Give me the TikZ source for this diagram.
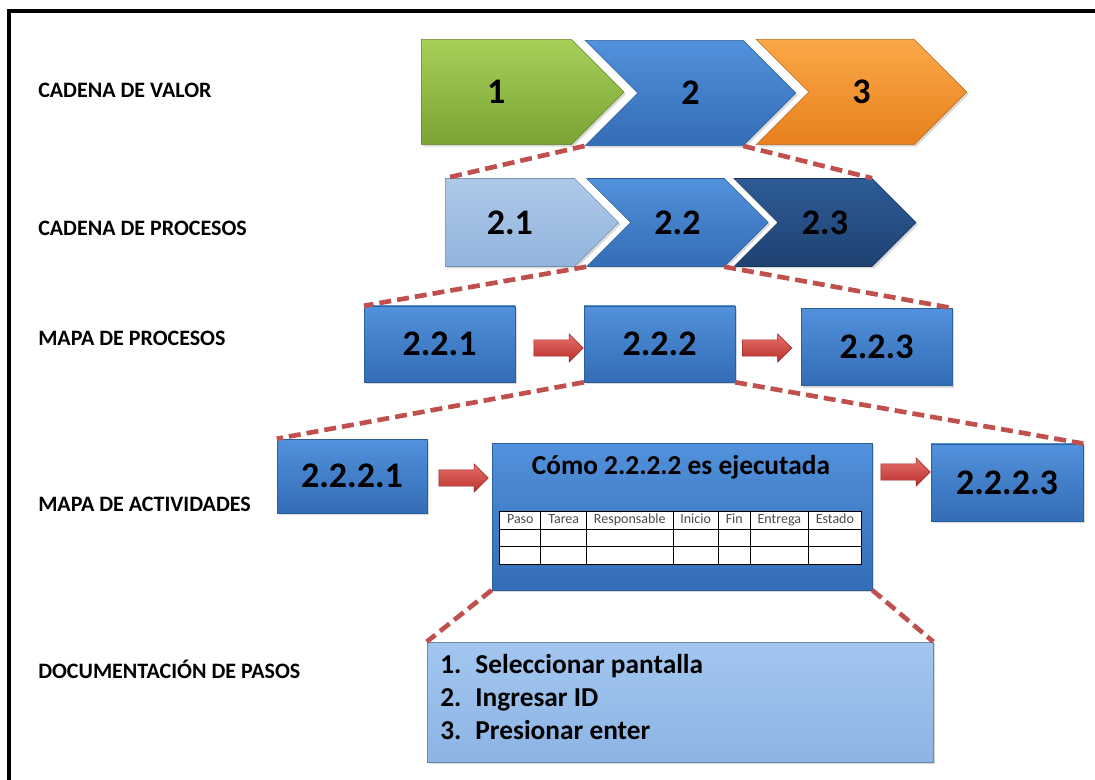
\documentclass[tikz,border=0pt]{standalone}
\usepackage{fontspec}
\setmainfont{Carlito}
\usepackage{array}
\usepackage{xcolor}
\usetikzlibrary{positioning,shapes.symbols,shapes.arrows,shadows}

\definecolor{zoomred}{HTML}{C0504D}
\definecolor{cellgray}{HTML}{4A4A4A}
\definecolor{greentop}{HTML}{A8CF58}
\definecolor{greenbot}{HTML}{7AA334}
\definecolor{bluetop}{HTML}{5291DC}
\definecolor{bluebot}{HTML}{336DB5}
\definecolor{blueline}{HTML}{2C5E9C}
\definecolor{orangetop}{HTML}{FBA848}
\definecolor{orangebot}{HTML}{E8801E}
\definecolor{paletop}{HTML}{AEC9EA}
\definecolor{palebot}{HTML}{93B4DD}
\definecolor{darktop}{HTML}{2D5B96}
\definecolor{darkbot}{HTML}{1E4272}
\definecolor{doctop}{HTML}{A2C6EF}
\definecolor{docbot}{HTML}{8CB4E4}
\definecolor{arrowtop}{HTML}{E8706A}
\definecolor{arrowbot}{HTML}{B8302C}

\begin{document}
\begin{tikzpicture}[
  x=0.75pt, y=-0.75pt,
  level/.style={anchor=west, inner sep=0pt, font=\fontsize{16.5}{19.5}\selectfont\bfseries},
  chev/.style={signal, signal to=east, signal pointer angle=90, inner sep=0pt,
    line width=0.4pt, font=\fontsize{27}{32}\selectfont\bfseries,
    drop shadow={shadow xshift=1.5pt, shadow yshift=-1.5pt, opacity=0.3}},
  notched/.style={signal from=west},
  greenfill/.style={top color=greentop, bottom color=greenbot, draw=greenbot!80!black},
  bluefill/.style={top color=bluetop, bottom color=bluebot, draw=blueline},
  orangefill/.style={top color=orangetop, bottom color=orangebot, draw=orangebot!80!black},
  palefill/.style={top color=paletop, bottom color=palebot, draw=palebot!80!black},
  darkfill/.style={top color=darktop, bottom color=darkbot, draw=darkbot!80!black},
  box/.style={rectangle, bluefill, inner sep=0pt, line width=0.4pt,
    font=\fontsize{27}{32}\selectfont\bfseries,
    drop shadow={shadow xshift=1.5pt, shadow yshift=-1.5pt, opacity=0.3}},
  doc/.style={rectangle, top color=doctop, bottom color=docbot,
    draw=docbot!75!black, inner sep=0pt, line width=0.4pt,
    drop shadow={shadow xshift=1.5pt, shadow yshift=-1.5pt, opacity=0.3}},
  redarrow/.style={single arrow, single arrow head extend=4.5pt, inner xsep=0pt,
    inner ysep=6pt, minimum height=37pt, top color=arrowtop, bottom color=arrowbot,
    draw=arrowbot!80!black, line width=0.3pt},
  zoom/.style={zoomred, line width=3.5pt, dash pattern=on 9pt off 4.5pt},
]
  \useasboundingbox (0,0) rectangle (1095,780);
  \draw[line width=3pt] (9,800) |- (1110,11);

  % levels
  \node[level] (l1) at (38,90) {CADENA DE VALOR};
  \node[level] (l2) at (38,228) {CADENA DE PROCESOS};
  \node[level] (l3) at (38,338) {MAPA DE PROCESOS};
  \node[level] (l4) at (38,504) {MAPA DE ACTIVIDADES};
  \node[level] (l5) at (38,669) {DOCUMENTACIÓN DE PASOS};

  % value chain
  \node[chev, greenfill, anchor=west, minimum width=152pt, minimum height=79pt] (c1) at (421,92) {1};
  \node[chev, notched, bluefill, minimum width=158pt, minimum height=79pt] (c2) at (690.5,93) {2};
  \node[chev, notched, orangefill, minimum width=158pt, minimum height=79pt] (c3) at (861.5,92) {3};

  % process chain
  \node[chev, palefill, anchor=west, minimum width=130pt, minimum height=66pt] (p21) at (445,222.5) {2.1};
  \node[chev, notched, bluefill, minimum width=136pt, minimum height=66pt] (p22) at (677.5,222.5) {2.2};
  \node[chev, notched, darkfill, minimum width=136.5pt, minimum height=66pt] (p23) at (825,222.5) {2.3};

  % process map
  \node[box, minimum width=113pt, minimum height=57pt] (m221) at (439.5,344) {2.2.1};
  \node[box, minimum width=113pt, minimum height=57pt] (m222) at (659.5,344) {2.2.2};
  \node[box, minimum width=113pt, minimum height=58pt] (m223) at (876.5,347) {2.2.3};
  \node[redarrow] (r1) at (554.5,348) {};
  \node[redarrow] (r2) at (763,348) {};

  % activity map
  \node[box, minimum width=112.5pt, minimum height=55.5pt] (a2221) at (352,476) {2.2.2.1};
  \node[box, minimum width=285pt, minimum height=110pt] (act) at (682,516.5) {};
  \node[box, minimum width=114pt, minimum height=58pt] (a2223) at (1007,482.5) {2.2.2.3};
  \node[redarrow] (r3) at (459.5,478) {};
  \node[redarrow] (r4) at (901.5,472) {};
  \node[font=\fontsize{20.5}{24}\selectfont\bfseries] (ttl) at (681,467) {Cómo 2.2.2.2 es ejecutada};
  \node[fill=white, inner sep=0pt, font=\fontsize{10.5}{12.6}\selectfont] (tab) at (680.5,538) {%
    \setlength{\tabcolsep}{5.2pt}\setlength{\arrayrulewidth}{0.7pt}%
    \begin{tabular}{|*{7}{>{\color{cellgray}}c|}}\hline
      Paso & Tarea & Responsable & Inicio & Fin & Entrega & Estado\\\hline
      &&&&&&\\\hline
      &&&&&&\\\hline
    \end{tabular}};

  % step documentation
  \node[doc, minimum width=379.5pt, minimum height=90pt] (dc) at (680,702) {};
  \node[anchor=west, inner sep=0pt, font=\fontsize{20.5}{24.75}\selectfont\bfseries] (lst) at (440,700) {%
    \begin{tabular}{@{}l@{\hspace{10.5pt}}l@{}}
      1. & Seleccionar pantalla\\
      2. & Ingresar ID\\
      3. & Presionar enter
    \end{tabular}};

  % zoom lines
  \draw[zoom] (c2.south west) -- (p21.north west);
  \draw[zoom] (c2.south east) -- (p23.north east);
  \draw[zoom] (p22.south west) -- (m221.north west);
  \draw[zoom] (p22.south east) -- (m223.north east);
  \draw[zoom] (m222.south west) -- (a2221.north west);
  \draw[zoom] (m222.south east) -- (a2223.north east);
  \draw[zoom] (act.south west) -- (dc.north west);
  \draw[zoom] (act.south east) -- (dc.north east);
\end{tikzpicture}
\end{document}
